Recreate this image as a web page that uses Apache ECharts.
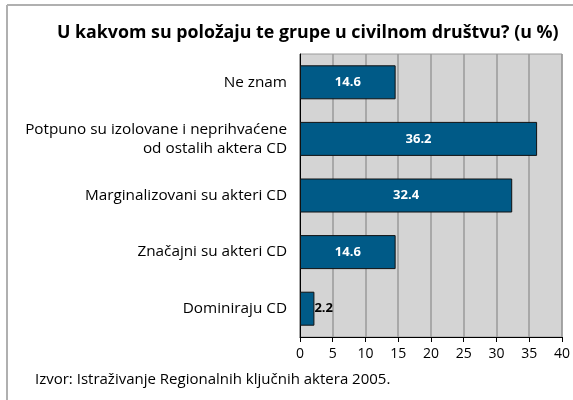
<!DOCTYPE html>
<html>
<head>
<meta charset="utf-8">
<script src="https://cdn.jsdelivr.net/npm/echarts@6/dist/echarts.min.js"></script>
<style>
  html, body { margin: 0; padding: 0; background: #fff; }
  #chart { width: 573px; height: 400px; }
</style>
</head>
<body>
<div id="chart"></div>
<script>
const titleText = 'U kakvom su položaju te grupe u civilnom društvu? (u %)';
const sourceText = 'Izvor: Istraživanje Regionalnih ključnih aktera 2005.';
// top to bottom
const categories = [
  'Ne znam',
  'Potpuno su izolovane i neprihvaćene\nod ostalih aktera CD',
  'Marginalizovani su akteri CD',
  'Značajni su akteri CD',
  'Dominiraju CD'
];
const values = [14.6, 36.2, 32.4, 14.6, 2.2];
const xTicks = [0, 5, 10, 15, 20, 25, 30, 35, 40];

const font = '"Open Sans", "Noto Sans", sans-serif';
const chart = echarts.init(document.getElementById('chart'));

const option = {
  animation: false,
  title: {
    text: titleText,
    left: 52,
    top: 19,
    textStyle: { fontFamily: font, fontSize: 17.8, fontWeight: 'bold', color: '#000' }
  },
  graphic: [
    { type: 'line', shape: { x1: 7, y1: 5, x2: 573, y2: 5 }, style: { stroke: '#b0b0b0', lineWidth: 2 } },
    { type: 'line', shape: { x1: 7, y1: 5, x2: 7, y2: 400 }, style: { stroke: '#b0b0b0', lineWidth: 2 } },
    {
      type: 'text', left: 35, top: 372,
      style: { text: sourceText, font: '15px ' + font, fill: '#000' }
    }
  ],
  grid: {
    left: 300, right: 11, top: 54, bottom: 63,
    show: true, backgroundColor: '#d4d4d4', borderColor: '#9a9a9a', borderWidth: 1
  },
  xAxis: {
    type: 'value',
    min: 0, max: 40, interval: 5,
    axisLine: { show: true, lineStyle: { color: '#000' } },
    axisTick: { show: true, length: 5, lineStyle: { color: '#000' } },
    axisLabel: {
      fontFamily: font, fontSize: 14, color: '#000', margin: 10,
      formatter: v => xTicks.includes(v) ? String(v) : ''
    },
    splitLine: { show: true, lineStyle: { color: '#9a9a9a', width: 1.5 } }
  },
  yAxis: {
    type: 'category',
    data: categories,
    inverse: true,
    axisLine: { show: true, lineStyle: { color: '#000' } },
    axisTick: { show: false },
    axisLabel: {
      fontFamily: font, fontSize: 15.3, color: '#000', margin: 13,
      align: 'right', lineHeight: 19
    }
  },
  series: [{
    type: 'bar',
    barWidth: 34,
    data: values.map(v => v < 5
      ? { value: v, label: { position: 'right', distance: 0, color: '#000' } }
      : v),
    itemStyle: { color: '#005a87', borderColor: '#111', borderWidth: 1 },
    label: {
      show: true, position: 'inside',
      fontFamily: font, fontSize: 13, fontWeight: 'bold', color: '#fff'
    }
  }]
};
chart.setOption(option);
</script>
</body>
</html>
